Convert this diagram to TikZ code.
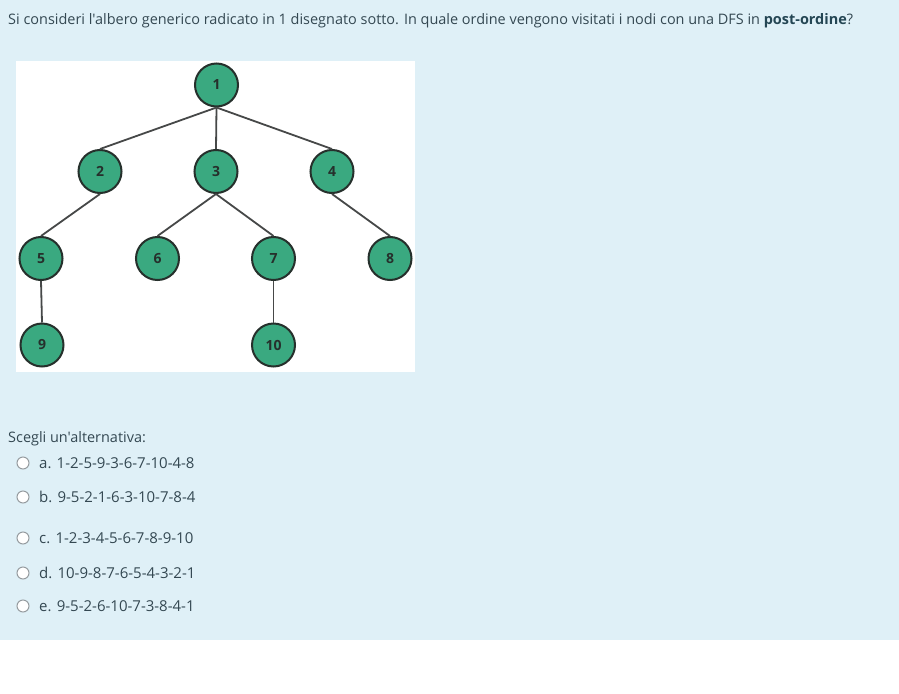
\documentclass[tikz,border=0pt]{standalone}
\usepackage{fontspec}
\newfontfamily\opensans{Open Sans}
\definecolor{pagebg}{RGB}{223,240,247}
\definecolor{txt}{RGB}{52,72,82}
\definecolor{txtb}{RGB}{36,70,84}
\definecolor{vfill}{RGB}{58,169,128}
\definecolor{vline}{RGB}{38,48,44}
\definecolor{eline}{RGB}{70,72,72}
\definecolor{radio}{RGB}{150,156,160}
\begin{document}
\begin{tikzpicture}[x=1pt,y=-1pt,
  vert/.style={circle, draw=vline, line width=2pt, fill=vfill, minimum size=43pt, inner sep=0pt, font=\opensans\fontsize{14}{14}\selectfont\bfseries, text=vline},
  edge/.style={draw=eline, line width=1.8pt},
  ln/.style={anchor=base west, inner sep=0pt, text=txt, font=\opensans\fontsize{14.45}{16}\selectfont},
  opt/.style={ln, font=\opensans\fontsize{15}{16}\selectfont},
  rb/.style={circle, draw=radio, fill=white, line width=1pt, minimum size=12pt, inner sep=0pt}]
\useasboundingbox (0,0) rectangle (899,693);
\fill[pagebg] (0,0) rectangle (899,640);
\fill[white] (16,61) rectangle (415,372);
% question
\node[ln] (q) at (8,25) {Si consideri l'albero generico radicato in 1 disegnato sotto. In quale ordine vengono visitati i nodi con una DFS in \textbf{\color{txtb}post-ordine}?};
% tree
\node[vert] (v1) at (216.5,85){1};
\node[vert] (v2) at (100,171.5){2};
\node[vert] (v3) at (216,171.5){3};
\node[vert] (v4) at (332,171.5){4};
\node[vert] (v5) at (41,258.5){5};
\node[vert] (v6) at (157.5,258.5){6};
\node[vert] (v7) at (273.5,258.5){7};
\node[vert] (v8) at (390,258.5){8};
\node[vert] (v9) at (42,345){9};
\node[vert] (v10) at (273.5,345){10};
\draw[edge](v1.south) -- (v2.north);
\draw[edge](v1.south) -- (v3.north);
\draw[edge](v1.south) -- (v4.north);
\draw[edge](v2.south) -- (v5.north);
\draw[edge](v5.south) -- (v9.north);
\draw[edge](v3.south) -- (v6.north);
\draw[edge](v3.south) -- (v7.north);
\draw[edge](v7.south) -- (v10.north);
\draw[edge](v4.south) -- (v8.north);
% answers
\node[ln] (sc) at (8,442) {Scegli un'alternativa:};
\node[rb] (ra) at (23,463){};
\node[opt] (oa) at (39,468) {a. 1-2-5-9-3-6-7-10-4-8};
\node[rb] (rb) at (23,497){};
\node[opt] (ob) at (39,502) {b. 9-5-2-1-6-3-10-7-8-4};
\node[rb] (rc) at (23,538){};
\node[opt] (oc) at (39,543) {c. 1-2-3-4-5-6-7-8-9-10};
\node[rb] (rd) at (23,573){};
\node[opt] (od) at (39,578) {d. 10-9-8-7-6-5-4-3-2-1};
\node[rb] (re) at (23,606){};
\node[opt] (oe) at (39,611) {e. 9-5-2-6-10-7-3-8-4-1};
\end{tikzpicture}
\end{document}
